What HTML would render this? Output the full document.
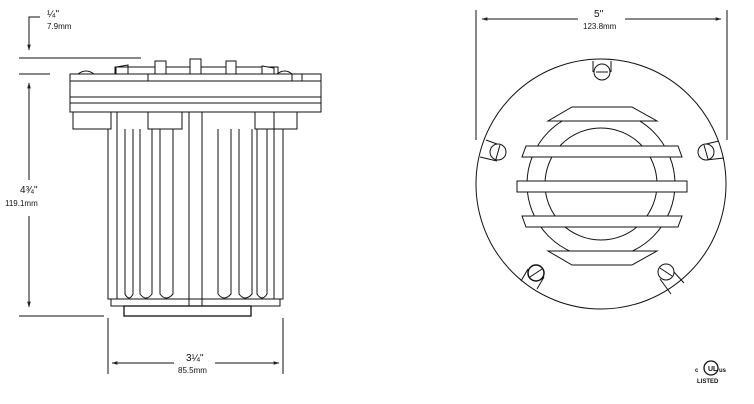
<!DOCTYPE html>
<html><head><meta charset="utf-8"><style>
html,body{margin:0;padding:0;background:#fff;width:754px;height:404px;overflow:hidden}
svg{display:block}
text{font-family:"Liberation Sans",sans-serif;fill:#111}
</style></head><body>
<svg width="754" height="404" viewBox="0 0 754 404" xmlns="http://www.w3.org/2000/svg">
<defs>
<marker id="a" viewBox="0 0 10 10" refX="9" refY="5" markerWidth="6" markerHeight="6" orient="auto-start-reverse"><path d="M0,2 L10,5 L0,8 z" fill="#222"/></marker>
</defs>
<g stroke="#111" stroke-width="1" fill="none">
<!-- left dims -->
<polyline points="40,17 29,17 29,50" marker-end="url(#a)"/>
<line x1="19" y1="58" x2="141" y2="58"/>
<line x1="19" y1="74" x2="50" y2="74"/>
<line x1="29" y1="180" x2="29" y2="83" marker-end="url(#a)"/>
<line x1="29" y1="216" x2="29" y2="307" marker-end="url(#a)"/>
<line x1="19" y1="316" x2="104" y2="316"/>
<line x1="108" y1="318" x2="108" y2="374"/>
<line x1="283" y1="318" x2="283" y2="374"/>
<line x1="174" y1="363" x2="112" y2="363" marker-end="url(#a)"/>
<line x1="215" y1="363" x2="279" y2="363" marker-end="url(#a)"/>
<!-- top strip & tabs -->
<rect x="115" y="67" width="163" height="7"/>
<path d="M116,74 V67 L128,65 V74"/>
<rect x="155" y="61" width="11" height="13" fill="#fff"/>
<rect x="190" y="59" width="11" height="15" fill="#fff"/>
<rect x="226" y="61" width="10" height="13" fill="#fff"/>
<path d="M262,74 V66 L274,68 V74" fill="#fff"/>
<path d="M78,74 Q86,68 94,74"/>
<path d="M277,74 Q285,68 292,74"/>
<path d="M152,80 Q160,70 170,80"/>
<!-- flange -->
<rect x="70" y="74" width="251" height="38" fill="#fff"/>
<line x1="70" y1="81" x2="321" y2="81"/>
<line x1="70" y1="97" x2="321" y2="97"/>
<line x1="70" y1="103" x2="321" y2="103"/>
<line x1="148" y1="74" x2="148" y2="81"/>
<line x1="292" y1="74" x2="292" y2="81"/>
<line x1="302" y1="74" x2="302" y2="81"/>
<!-- blocks -->
<rect x="73" y="112" width="38" height="17"/>
<rect x="148" y="112" width="34" height="17"/>
<rect x="255" y="112" width="42" height="17"/>
<!-- fins -->
<path d="M108,129 V299 H117 V129"/>
<path d="M125,129 V294 Q129,302 133,294 V129"/>
<path d="M140,129 V294 Q146,302 152,294 V129"/>
<path d="M160,129 V294 Q166,302 173,294 V129"/>
<line x1="189" y1="112" x2="189" y2="306"/>
<line x1="202" y1="112" x2="202" y2="306"/>
<path d="M218,129 V294 Q224,302 231,294 V129"/>
<path d="M239,129 V294 Q245,302 252,294 V129"/>
<path d="M257,129 V294 Q262,302 267,294 V129"/>
<path d="M274,129 V299 H283 V129"/>
<line x1="117" y1="129" x2="117" y2="112"/>
<line x1="274" y1="129" x2="274" y2="112"/>
<rect x="111" y="299" width="169" height="7"/>
<rect x="124" y="306" width="127" height="10" stroke-width="1.3"/>
<!-- right dims -->
<line x1="476" y1="10" x2="476" y2="140"/>
<line x1="727" y1="10" x2="727" y2="140"/>
<line x1="578" y1="19" x2="482" y2="19" marker-end="url(#a)"/>
<line x1="625" y1="19" x2="721" y2="19" marker-end="url(#a)"/>
<!-- round view -->
<circle cx="601" cy="184" r="125"/>
<circle cx="601" cy="184" r="74"/>
<circle cx="601" cy="184" r="56"/>
<g fill="#fff">
<polygon points="572,107 632,107 657,121 548,121"/>
<polygon points="526,146 678,146 682,157 522,157"/>
<rect x="517" y="181" width="170" height="11"/>
<polygon points="522,216 682,216 678,227 526,227"/>
<polygon points="548,251 657,251 632,265 572,265"/>
</g>
<!-- screws -->
<path d="M593,61 V72 M611,61 V72"/>
<circle cx="602" cy="72" r="8" fill="#fff"/>
<line x1="596" y1="72" x2="608" y2="72"/>
<path d="M486,140 L497,144 M480,157 L497,161"/>
<circle cx="498" cy="152" r="8" fill="#fff"/>
<line x1="500" y1="145" x2="496" y2="159"/>
<path d="M719,141 L706,144 M724,158 L706,160"/>
<circle cx="706" cy="152" r="8" fill="#fff"/>
<line x1="704" y1="145" x2="708" y2="159"/>
<path d="M528,269 L521,281 M544,277 L537,289"/>
<circle cx="536" cy="273" r="8" fill="#fff" stroke-width="1.5"/>
<line x1="530" y1="277" x2="542" y2="269"/>
<path d="M660,279 L671,294 M673,271 L684,283"/>
<circle cx="666" cy="272" r="8" fill="#fff"/>
<line x1="660" y1="268" x2="672" y2="276"/>
<!-- UL -->
<circle cx="711" cy="368" r="7" stroke-width="1.3"/>
</g>
<g font-size="10">
<text x="47" y="17">¼''</text>
<text x="47" y="29" font-size="8">7.9mm</text>
<text x="20" y="193">4¾''</text>
<text x="5" y="206" font-size="8">119.1mm</text>
<text x="186" y="361">3¼''</text>
<text x="178" y="373" font-size="8">85.5mm</text>
<text x="594" y="17">5''</text>
<text x="583" y="29" font-size="8">123.8mm</text>
<text x="708" y="371" font-size="7" font-weight="bold">UL</text>
<text x="695" y="372" font-size="6" font-weight="bold">c</text>
<text x="719" y="372" font-size="6" font-weight="bold">us</text>
<text x="697" y="383" font-size="6" font-weight="bold">LISTED</text>
</g>
</svg>
</body></html>
